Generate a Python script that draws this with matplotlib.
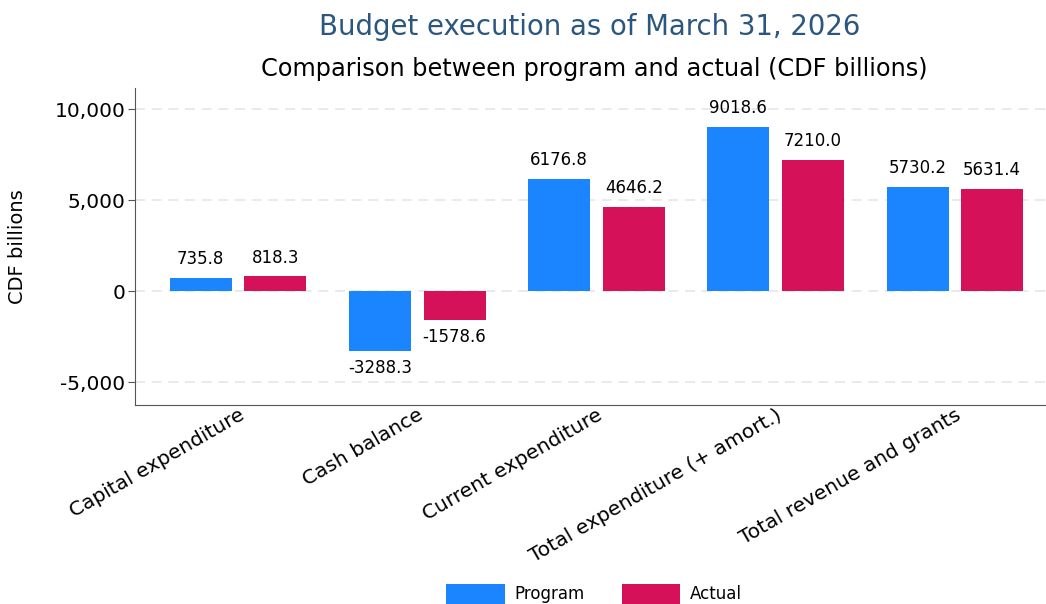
import matplotlib
matplotlib.use("Agg")
import matplotlib.pyplot as plt
import numpy as np
from matplotlib.ticker import FuncFormatter

categories = ["Capital expenditure", "Cash balance", "Current expenditure",
              "Total expenditure (+ amort.)", "Total revenue and grants"]
program = [735.8, -3288.3, 6176.8, 9018.6, 5730.2]
actual = [818.3, -1578.6, 4646.2, 7210.0, 5631.4]
series_names = ["Program", "Actual"]
colors = ["#1A85FF", "#D41159"]

plt.rcParams['font.family'] = ['DejaVu Sans']

fig = plt.figure(figsize=(10.46, 6.04), dpi=100)
ax = fig.add_axes([0.129, 0.329, 0.871, 0.525])

x = np.arange(len(categories))
w = 0.346
off = 0.208
for vals, name, col, d in [(program, series_names[0], colors[0], -off),
                           (actual, series_names[1], colors[1], off)]:
    bars = ax.bar(x + d, vals, width=w, color=col, label=name, zorder=3)
    for b, v in zip(bars, vals):
        if v >= 0:
            ax.annotate(f"{v:.1f}", (b.get_x() + b.get_width() / 2, v),
                        xytext=(0, 7), textcoords="offset points",
                        ha="center", va="bottom", fontsize=12)
        else:
            ax.annotate(f"{v:.1f}", (b.get_x() + b.get_width() / 2, v),
                        xytext=(0, -6), textcoords="offset points",
                        ha="center", va="top", fontsize=12)

ax.set_xlim(-0.575, 4.508)
ax.set_ylim(-6260, 11150)
ax.set_yticks([-5000, 0, 5000, 10000])
ax.yaxis.set_major_formatter(FuncFormatter(lambda v, p: f"{v:,.0f}"))
ax.grid(axis="y", color="#e6e6e6", linestyle=(0, (6, 4)), linewidth=1.2, zorder=0)
ax.set_xticks(x)
ax.set_xticklabels(categories, rotation=30, ha="right", rotation_mode="anchor",
                   fontsize=14.5)
ax.tick_params(axis="y", labelsize=14.5, length=5, color="#555555", pad=2)
ax.tick_params(axis="x", length=0, pad=0)
ax.spines["top"].set_visible(False)
ax.spines["right"].set_visible(False)
ax.spines["left"].set_color("#555555")
ax.spines["bottom"].set_color("#555555")
ax.set_ylabel("CDF billions", fontsize=14, labelpad=20)

fig.text(0.564, 0.955, "Budget execution as of March 31, 2026", ha="center",
         va="center", fontsize=19.8, color="#2A5680")
fig.text(0.568, 0.885, "Comparison between program and actual (CDF billions)",
         ha="center", va="center", fontsize=17.3, color="black")

handles, labels = ax.get_legend_handles_labels()
fig.legend(handles, labels, loc="lower center", bbox_to_anchor=(0.568, -0.025),
           ncol=2, frameon=False, fontsize=12, handlelength=3.5,
           handleheight=1.5, handletextpad=0.6, columnspacing=2.2)

fig.savefig("out.png", dpi=100)
